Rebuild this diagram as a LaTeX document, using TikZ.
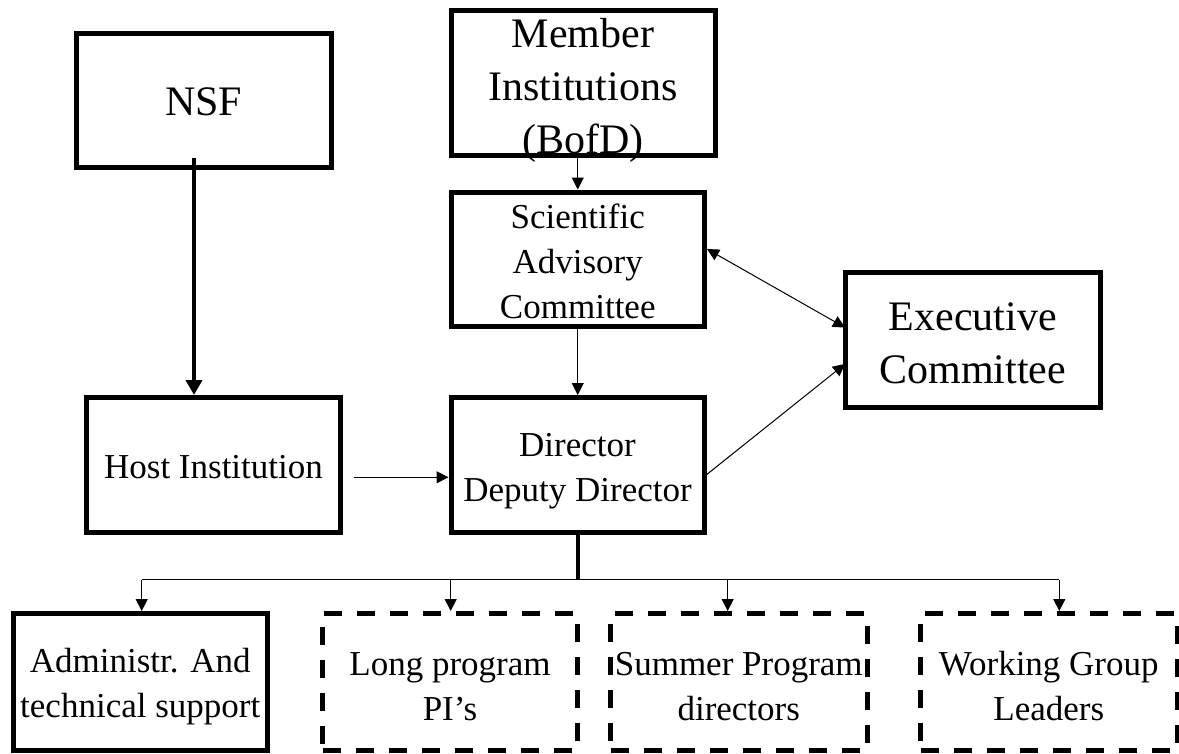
\documentclass[tikz,border=0pt]{standalone}
\usepackage{fontspec}
\setmainfont{Liberation Serif}
\usetikzlibrary{arrows.meta}
\newcommand\topstrut[1]{\rule{0pt}{#1pt}}
\begin{document}
\begin{tikzpicture}[x=1pt,y=-1pt,
  box/.style={draw,line width=5pt,inner sep=0pt,align=center,font=\fontsize{35}{45}\selectfont},
  bigbox/.style={box,font=\fontsize{42}{53}\selectfont},
  dbox/.style={box,dash pattern=on 18pt off 15pt},
  arr/.style={line width=1pt,-{Triangle[length=12pt,width=12pt]}},
  darr/.style={line width=1pt,{Triangle[length=12pt,width=12pt]}-{Triangle[length=12pt,width=12pt]}},
  bigarr/.style={line width=4pt,-{Triangle[length=15pt,width=16pt]}}]
\useasboundingbox (0,0) rectangle (1179,753);
\node[bigbox,minimum width=254.5pt,minimum height=134pt] (nsf) at (203.75,100.5) {\topstrut{30}NSF};
\node[bigbox,inner ysep=-20pt,minimum width=264pt,minimum height=145.5pt] (mem) at (583,82.75) {\topstrut{44}Member\\Institutions\\(BofD)};
\node[box,minimum width=253.5pt,minimum height=134.5pt] (sac) at (577.75,259.25) {\topstrut{28}Scientific\\Advisory\\Committee};
\node[bigbox,minimum width=254.5pt,minimum height=135.5pt] (exe) at (972.75,339.75) {\topstrut{35}Executive\\Committee};
\node[box,minimum width=254pt,minimum height=135pt] (host) at (213.5,465) {\topstrut{27}Host Institution};
\node[box,minimum width=253pt,minimum height=135pt] (dir) at (577.5,465) {\topstrut{35}Director\\Deputy Director};
\node[box,minimum width=254.5pt,minimum height=136.5pt] (adm) at (140.25,681.75) {\topstrut{33}Administr. And\\technical support};
\node[dbox,minimum width=255pt,minimum height=136.5pt] (lng) at (450,681.75) {\topstrut{33}Long program\\PI’s};
\node[dbox,minimum width=256.5pt,minimum height=136.5pt] (sum) at (738.75,681.75) {\topstrut{33}Summer Program\\directors};
\node[dbox,minimum width=256.5pt,minimum height=136.5pt] (wgl) at (1048.75,681.75) {\topstrut{33}Working Group\\Leaders};
% connectors
\coordinate (n1) at (194,158);
\draw[bigarr] (n1) -- (n1 |- host.north);
\draw[arr] (sac.north |- mem.south) -- (sac.north);
\draw[arr] (sac.south) -- (sac.south |- dir.north);
\coordinate (h1) at (354,477.3);
\draw[arr] (h1) -- (h1 -| dir.west);
\coordinate (d2) at (704,476.7);
\coordinate (e2) at (845,364);
\draw[arr] (d2) -- (e2);
\coordinate (s1) at (707,249);
\coordinate (e1) at (845,327.5);
\draw[darr] (s1) -- (e1);
% bus
\coordinate (bus) at (578,579.5);
\draw[line width=4pt] (dir.south -| bus) -- (bus);
\coordinate (b1) at (141.7,579.5);
\coordinate (b2) at (450.7,579.5);
\coordinate (b3) at (727.7,579.5);
\coordinate (b4) at (1059.3,579.5);
\draw[line width=1pt] (b1) -- (b4);
\draw[arr] (b1) -- (b1 |- adm.north);
\draw[arr] (b2) -- (b2 |- lng.north);
\draw[arr] (b3) -- (b3 |- sum.north);
\draw[arr] (b4) -- (b4 |- wgl.north);
\end{tikzpicture}
\end{document}
